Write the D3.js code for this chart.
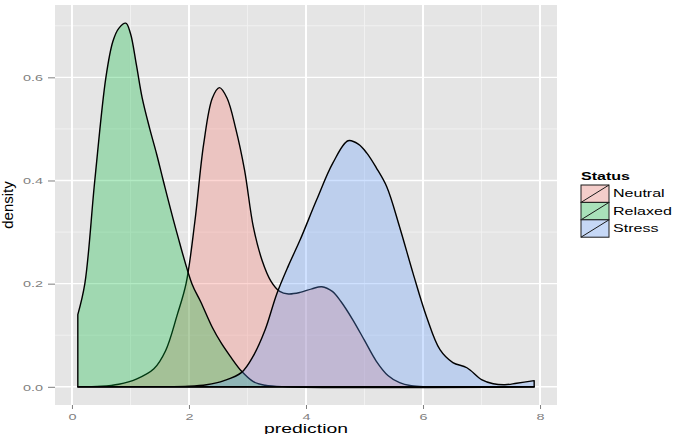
<!DOCTYPE html>
<html>
<head>
<meta charset="utf-8">
<script src="https://cdn.jsdelivr.net/npm/d3@7"></script>
<style>
  body { margin: 0; background: #fff; }
  text { font-family: "Liberation Sans", Arial, sans-serif; }
</style>
</head>
<body>
<script>
// Density estimates
const neutralX = [0.1, 0.5, 0.8, 1.1, 1.4, 1.6, 1.8, 1.95, 2.1, 2.25, 2.4, 2.52, 2.65, 2.8, 2.95, 3.1, 3.25, 3.4, 3.55, 3.7, 3.9, 4.1, 4.27, 4.45, 4.6, 4.8, 5.0, 5.2, 5.4, 5.6, 5.8, 6.0, 7.9];
const neutralY = [0, 0.001, 0.005, 0.015, 0.035, 0.07, 0.14, 0.2, 0.32, 0.47, 0.56, 0.58, 0.56, 0.5, 0.42, 0.31, 0.245, 0.205, 0.185, 0.18, 0.183, 0.19, 0.194, 0.185, 0.165, 0.13, 0.09, 0.05, 0.022, 0.008, 0.002, 0, 0];

const relaxedX = [0.1, 0.22, 0.39, 0.58, 0.7, 0.8, 0.92, 1.0, 1.1, 1.2, 1.33, 1.45, 1.56, 1.79, 2.05, 2.2, 2.4, 2.55, 2.7, 2.9, 3.1, 3.3, 3.6, 7.9];
const relaxedY = [0.14, 0.2, 0.4, 0.6, 0.67, 0.695, 0.705, 0.685, 0.625, 0.56, 0.5, 0.45, 0.4, 0.3, 0.2, 0.165, 0.115, 0.085, 0.06, 0.03, 0.01, 0.003, 0, 0];

const stressX = [0.1, 1.5, 2.0, 2.3, 2.6, 2.9, 3.1, 3.3, 3.5, 3.7, 3.9, 4.18, 4.46, 4.72, 4.9, 5.04, 5.2, 5.38, 5.6, 5.83, 6.06, 6.29, 6.51, 6.75, 7.0, 7.2, 7.4, 7.6, 7.9];
const stressY = [0, 0, 0.001, 0.004, 0.012, 0.028, 0.06, 0.11, 0.18, 0.235, 0.285, 0.362, 0.434, 0.477, 0.47, 0.453, 0.425, 0.388, 0.31, 0.22, 0.136, 0.072, 0.047, 0.037, 0.014, 0.006, 0.004, 0.007, 0.012];

const statusNames = ["Neutral", "Relaxed", "Stress"];
const statusColors = ["#F8766D", "#00BA38", "#619CFF"];

const xTicks = [0, 2, 4, 6, 8];
const xMinor = [1, 3, 5, 7];
const yTicks = [0, 0.2, 0.4, 0.6];
const yMinor = [0.1, 0.3, 0.5, 0.7];

const series = [
  {name: "Neutral", x: neutralX, y: neutralY},
  {name: "Relaxed", x: relaxedX, y: relaxedY},
  {name: "Stress", x: stressX, y: stressY}
];

const width = 679, height = 434;
const panel = {left: 55, right: 557, top: 5, bottom: 405};
const stretch = 1.55; // the picture's text is wider than normal

const svg = d3.select("body").append("svg")
  .attr("width", width)
  .attr("height", height);

// ggplot style 5% expansion
const allX = neutralX.concat(relaxedX, stressX);
const allY = neutralY.concat(relaxedY, stressY);
const xMin = d3.min(allX), xMax = d3.max(allX);
const yMax = d3.max(allY);
const xPad = (xMax - xMin) * 0.05, yPad = yMax * 0.05;

const x = d3.scaleLinear()
  .domain([xMin - xPad, xMax + xPad])
  .range([panel.left, panel.right]);
const y = d3.scaleLinear()
  .domain([-yPad, yMax + yPad])
  .range([panel.bottom, panel.top]);

const color = d3.scaleOrdinal().domain(statusNames).range(statusColors);

// panel background
svg.append("rect")
  .attr("x", panel.left).attr("y", panel.top)
  .attr("width", panel.right - panel.left)
  .attr("height", panel.bottom - panel.top)
  .attr("fill", "#E5E5E5");

// grid
const grid = svg.append("g");
grid.selectAll(".vminor").data(xMinor).enter().append("line")
  .attr("x1", d => x(d)).attr("x2", d => x(d))
  .attr("y1", panel.top).attr("y2", panel.bottom)
  .attr("stroke", "#F2F2F2").attr("stroke-width", 0.9);
grid.selectAll(".hminor").data(yMinor).enter().append("line")
  .attr("x1", panel.left).attr("x2", panel.right)
  .attr("y1", d => y(d)).attr("y2", d => y(d))
  .attr("stroke", "#F2F2F2").attr("stroke-width", 0.9);
grid.selectAll(".vmajor").data(xTicks).enter().append("line")
  .attr("x1", d => x(d)).attr("x2", d => x(d))
  .attr("y1", panel.top).attr("y2", panel.bottom)
  .attr("stroke", "#FFFFFF").attr("stroke-width", 2);
grid.selectAll(".hmajor").data(yTicks).enter().append("line")
  .attr("x1", panel.left).attr("x2", panel.right)
  .attr("y1", d => y(d)).attr("y2", d => y(d))
  .attr("stroke", "#FFFFFF").attr("stroke-width", 1.4);

// density areas
const area = d3.area()
  .x(d => x(d[0]))
  .y0(y(0))
  .y1(d => y(d[1]))
  .curve(d3.curveCatmullRom.alpha(0.5));

series.forEach(function(s) {
  const pts = s.x.map((v, i) => [v, s.y[i]]);
  svg.append("path")
    .datum(pts)
    .attr("d", area)
    .attr("fill", color(s.name))
    .attr("fill-opacity", 0.3)
    .attr("stroke", "#000")
    .attr("stroke-width", 1.4)
    .attr("stroke-linejoin", "round");
});

// axes
const xAxis = svg.append("g")
  .attr("transform", "translate(0," + panel.bottom + ")")
  .call(d3.axisBottom(x).tickValues(xTicks).tickSize(4).tickFormat(d3.format("d")));
xAxis.select(".domain").remove();
xAxis.selectAll("line").attr("stroke", "#7F7F7F");
xAxis.selectAll("text")
  .attr("y", 15).attr("dy", 0)
  .attr("transform", "scale(" + stretch + ",1)")
  .attr("fill", "#7F7F7F")
  .style("font-size", "9.3px");

const yAxis = svg.append("g")
  .attr("transform", "translate(" + panel.left + ",0)")
  .call(d3.axisLeft(y).tickValues(yTicks).tickSize(7).tickFormat(d3.format(".1f")));
yAxis.select(".domain").remove();
yAxis.selectAll("line").attr("stroke", "#7F7F7F");
yAxis.selectAll("text")
  .attr("x", 0).attr("dy", "0.35em")
  .attr("transform", "translate(-12,0) scale(" + stretch + ",1)")
  .attr("fill", "#7F7F7F")
  .style("font-size", "9.3px");

// axis titles
svg.append("text")
  .attr("transform", "translate(" + ((panel.left + panel.right) / 2) + ",433) scale(1.55,1)")
  .attr("text-anchor", "middle")
  .style("font-size", "12.5px")
  .attr("fill", "#000")
  .text("prediction");

svg.append("text")
  .attr("transform", "translate(13," + ((panel.top + panel.bottom) / 2) + ") rotate(-90)")
  .attr("text-anchor", "middle")
  .style("font-family", "'Liberation Sans Narrow', 'Arial Narrow', sans-serif")
  .style("font-size", "15px")
  .attr("fill", "#000")
  .text("density");

// legend
const legend = svg.append("g").attr("transform", "translate(581,185)");
legend.append("text")
  .attr("x", 0).attr("y", -5)
  .attr("transform", "scale(1.5,1)")
  .style("font-size", "10.7px")
  .style("font-weight", "bold")
  .text("Status");

const keyW = 28, keyH = 17.4;
const item = legend.selectAll(".item").data(statusNames).enter().append("g")
  .attr("transform", (d, i) => "translate(0," + i * keyH + ")");
item.append("rect")
  .attr("width", keyW).attr("height", keyH)
  .attr("fill", "#F2F2F2");
item.append("rect")
  .attr("width", keyW).attr("height", keyH)
  .attr("fill", d => color(d)).attr("fill-opacity", 0.3)
  .attr("stroke", "#1a1a1a").attr("stroke-width", 1);
item.append("line")
  .attr("x1", 0).attr("y1", keyH).attr("x2", keyW).attr("y2", 0)
  .attr("stroke", "#1a1a1a").attr("stroke-width", 1);
item.append("text")
  .attr("transform", "translate(" + (keyW + 4) + "," + (keyH / 2) + ") scale(1.5,1)")
  .attr("dy", "0.35em")
  .style("font-size", "10.7px")
  .text(d => d);
</script>
</body>
</html>
